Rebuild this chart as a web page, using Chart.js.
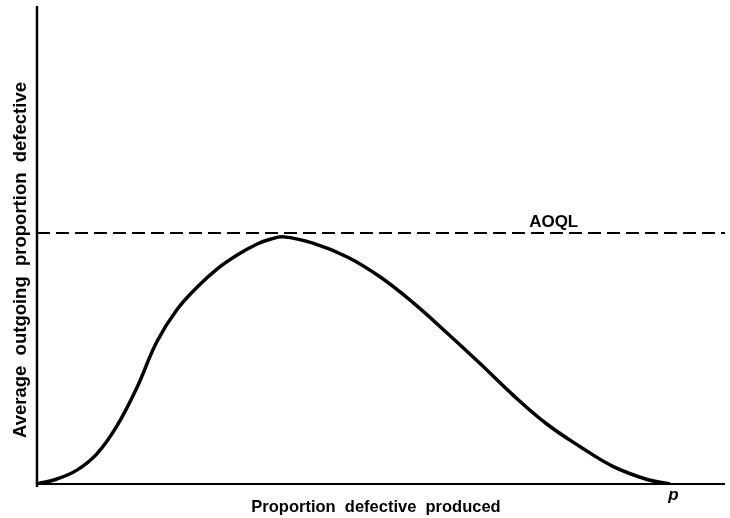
<!DOCTYPE html>
<html>
<head>
<meta charset="utf-8">
<script src="https://cdn.jsdelivr.net/npm/chart.js@4/dist/chart.umd.min.js"></script>
<style>
  html, body { margin: 0; padding: 0; background: #ffffff; }
  #wrap { width: 730px; height: 518px; }
</style>
</head>
<body>
<div id="wrap"><canvas id="aoq" width="730" height="518"></canvas></div>
<script>
// Incoming proportion defective p (arbitrary units, 0–100 across the axis)
const pValues = [0, 2.9, 5.8, 8.7, 11.6, 14.5, 17.4, 20.3, 23.3, 26.2, 29.1, 32.0, 33.9, 35.8,
                 40.1, 45.1, 49.9, 54.7, 59.6, 64.4, 69.2, 74.1, 78.9, 83.7, 88.7, 92.0];
// Average outgoing proportion defective for each p (same arbitrary units)
const aoqValues = [0, 1.05, 2.9, 6.3, 12.1, 20.1, 29.7, 36.4, 41.2, 45.0, 47.9, 50.2, 51.2, 51.7,
                   50.4, 47.5, 43.3, 37.9, 31.6, 25.2, 18.6, 12.55, 7.85, 3.7, 0.95, 0];
// Average outgoing quality limit (maximum of the AOQ curve)
const aoqlLevel = 52.5;
const aoqlSpan = [0, 100];

// Text
const xTitle = 'Proportion  defective  produced';
const yTitle = 'Average  outgoing  proportion  defective';
const aoqlLabel = 'AOQL';
const pLabel = 'p';

const curve = pValues.map((p, i) => ({ x: p, y: aoqValues[i] }));
const aoqlLine = aoqlSpan.map(x => ({ x: x, y: aoqlLevel }));

const FONT = '"Liberation Sans", Arial, sans-serif';

// Axis lines and hand-placed labels
const annotate = {
  id: 'annotate',
  beforeDatasetsDraw(chart) {
    const { ctx } = chart;
    const xs = chart.scales.x, ys = chart.scales.y;
    const x0 = xs.getPixelForValue(0), x1 = xs.getPixelForValue(100);
    const y0 = ys.getPixelForValue(0), y1 = ys.getPixelForValue(100);
    ctx.save();
    ctx.strokeStyle = '#000';
    ctx.lineCap = 'butt';
    ctx.lineWidth = 2.5;
    ctx.beginPath();
    ctx.moveTo(x0, y1);
    ctx.lineTo(x0, y0 + 3);
    ctx.stroke();
    ctx.lineWidth = 2;
    ctx.beginPath();
    ctx.moveTo(x0 - 1, y0);
    ctx.lineTo(x1, y0);
    ctx.stroke();
    ctx.restore();
  },
  afterDraw(chart) {
    const { ctx } = chart;
    const xs = chart.scales.x, ys = chart.scales.y;
    const bottom = ys.getPixelForValue(0);
    ctx.save();
    ctx.fillStyle = '#000';
    ctx.textAlign = 'center';
    ctx.textBaseline = 'alphabetic';

    // x-axis title
    ctx.font = 'bold 16.5px ' + FONT;
    ctx.fillText(xTitle, 376, bottom + 28);

    // p at the end of the axis
    ctx.font = 'italic bold 17px ' + FONT;
    ctx.fillText(pLabel, xs.getPixelForValue(92.5), bottom + 16);

    // AOQL label above the dashed line
    ctx.font = 'bold 17px ' + FONT;
    ctx.fillText(aoqlLabel, xs.getPixelForValue(75.1), ys.getPixelForValue(aoqlLevel) - 6);

    // y-axis title, rotated
    ctx.translate(26, 260);
    ctx.rotate(-Math.PI / 2);
    ctx.font = 'bold 18.5px ' + FONT;
    ctx.fillText(yTitle, 0, 0);
    ctx.restore();
  }
};

new Chart(document.getElementById('aoq'), {
  type: 'line',
  data: {
    datasets: [
      {
        data: curve,
        borderColor: '#000',
        borderWidth: 3.5,
        pointRadius: 0,
        fill: false,
        tension: 0.4
      },
      {
        data: aoqlLine,
        borderColor: '#000',
        borderWidth: 2,
        borderDash: [13, 6],
        pointRadius: 0,
        fill: false
      }
    ]
  },
  options: {
    responsive: false,
    animation: false,
    layout: { padding: { left: 37, right: 5, top: 6, bottom: 34 } },
    plugins: { legend: { display: false }, tooltip: { enabled: false } },
    scales: {
      x: { type: 'linear', min: 0, max: 100, display: false },
      y: { type: 'linear', min: 0, max: 100, display: false }
    }
  },
  plugins: [annotate]
});
</script>
</body>
</html>
